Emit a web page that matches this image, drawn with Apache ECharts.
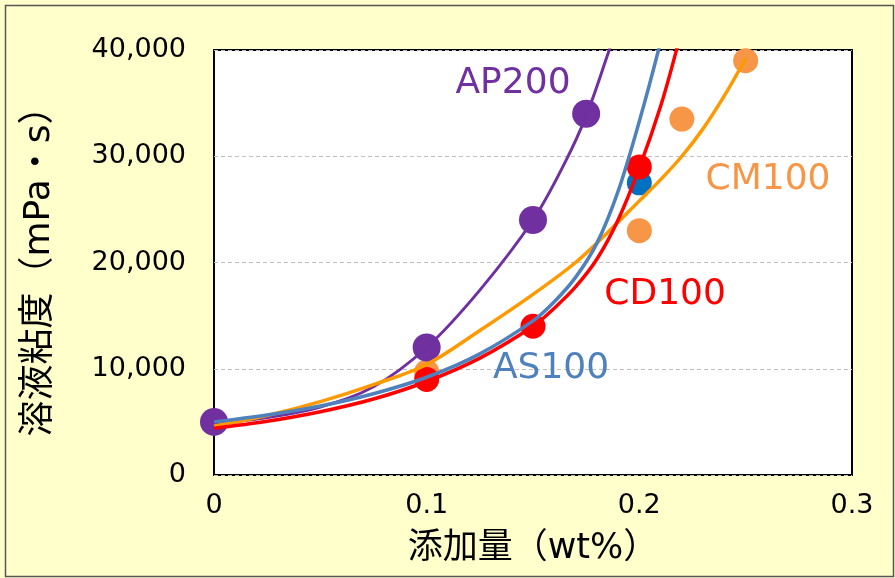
<!DOCTYPE html>
<html>
<head>
<meta charset="utf-8">
<script src="https://cdn.jsdelivr.net/npm/echarts@6/dist/echarts.min.js"></script>
<style>
  html, body { margin: 0; padding: 0; background: #ffffff; }
  #chart { width: 895px; height: 578px; }
</style>
</head>
<body>
<div id="chart"></div>
<script>
// Axis tick labels
const xTickLabels = ['0', '0.1', '0.2', '0.3'];
const yTickLabels = ['0', '10,000', '20,000', '30,000', '40,000'];

// Measured viscosity (mPa·s) vs. additive amount (wt%)
const ap200Points = [[0, 5000], [0.1, 12000], [0.15, 24000], [0.175, 34000]];
const cm100Points = [[0.1, 9700], [0.2, 23000], [0.22, 33500], [0.25, 39000]];
const cd100Points = [[0.1, 9000], [0.15, 14000], [0.2, 29000]];
const as100Points = [[0.2, 27500]];

// Approximation curves for each additive
const ap200Curve = [[0, 4800], [0.025, 5400], [0.05, 6400], [0.075, 8300], [0.1, 12000], [0.125, 17400],
  [0.15, 24000], [0.165, 29400], [0.175, 33800], [0.185, 39500], [0.19, 42500]];
const cm100Curve = [[0, 4600], [0.025, 5600], [0.05, 6900], [0.075, 8500], [0.1, 10400], [0.125, 13600],
  [0.15, 17000], [0.17, 20000], [0.185, 22800], [0.2, 25800], [0.21, 27800], [0.22, 30000],
  [0.23, 32600], [0.24, 35700], [0.25, 39200]];
const cd100Curve = [[0, 4400], [0.025, 5050], [0.05, 5950], [0.075, 7150], [0.1, 8800], [0.125, 11000],
  [0.15, 14000], [0.16, 15700], [0.17, 17700], [0.18, 20300], [0.19, 24000], [0.2, 28900],
  [0.21, 34700], [0.2172, 39800], [0.222, 43600]];
const as100Curve = [[0, 5000], [0.025, 5650], [0.05, 6500], [0.075, 7650], [0.1, 9200], [0.125, 11400],
  [0.15, 14500], [0.16, 16300], [0.17, 18600], [0.18, 21800], [0.19, 26700], [0.2, 33300],
  [0.209, 40000], [0.213, 43500]];

// Series name tags placed in data space
const seriesTags = [
  { name: 'AP200', value: [0.1406, 36800], color: '#7030A0' },
  { name: 'CM100', value: [0.2605, 27765], color: '#F79646' },
  { name: 'CD100', value: [0.2121, 16941], color: '#FF0000' },
  { name: 'AS100', value: [0.1585, 9976], color: '#4F81BD' }
];

const latinFont = '"DejaVu Sans", "Noto Sans CJK JP", sans-serif';

const chart = echarts.init(document.getElementById('chart'), null, { renderer: 'canvas' });

function markerSeries(data, color, size) {
  return { type: 'scatter', data: data, symbol: 'circle', symbolSize: size,
    itemStyle: { color: color, opacity: 1 }, z: 2, silent: true };
}
function curveSeries(data, color, width) {
  return { type: 'line', data: data, smooth: 0.35, showSymbol: false, symbol: 'none',
    clip: true, lineStyle: { color: color, width: width }, z: 3, silent: true };
}

chart.setOption({
  animation: false,
  backgroundColor: '#FFFFCC',
  graphic: [{
    type: 'rect', left: 3, top: 3, z: 100, silent: true,
    shape: { width: 888, height: 571 },
    style: { fill: 'none', stroke: '#555555', lineWidth: 1.5 }
  }],
  grid: { left: 214, right: 43, top: 50, bottom: 103, show: true, backgroundColor: '#ffffff',
    borderColor: '#000000', borderWidth: 2 },
  xAxis: {
    type: 'value', min: 0, max: 0.3, interval: 0.1,
    name: '添加量（wt%）', nameLocation: 'middle', nameGap: 56,
    nameTextStyle: { fontSize: 35, color: '#000', fontFamily: latinFont },
    axisLine: { show: false }, axisTick: { show: false }, splitLine: { show: false },
    axisLabel: { margin: 17, fontSize: 27, color: '#000', fontFamily: latinFont,
      formatter: v => xTickLabels[Math.round(v * 10)] }
  },
  yAxis: {
    type: 'value', min: 0, max: 40000, interval: 10000,
    name: '溶液粘度（mPa・s）', nameLocation: 'middle', nameGap: 156,
    nameTextStyle: { fontSize: 36, color: '#000', fontFamily: latinFont },
    axisLine: { show: false }, axisTick: { show: false },
    splitLine: { show: true, lineStyle: { color: '#BFBFBF', type: [4, 3], width: 1 } },
    axisLabel: { margin: 28, fontSize: 27, color: '#000', fontFamily: latinFont,
      formatter: v => yTickLabels[Math.round(v / 10000)] }
  },
  series: [
    markerSeries(as100Points, '#0070C0', 25),
    markerSeries(cm100Points, '#F79646', 25),
    markerSeries(cd100Points, '#FF0000', 25),
    markerSeries(ap200Points, '#7030A0', 28),
    curveSeries(ap200Curve, '#7030A0', 3),
    curveSeries(cm100Curve, '#FF9900', 3.5),
    curveSeries(cd100Curve, '#FF0000', 3.5),
    curveSeries(as100Curve, '#4F81BD', 3.5),
    {
      type: 'scatter', symbolSize: 0, z: 5, silent: true,
      itemStyle: { opacity: 1 },
      data: seriesTags.map(t => ({ name: t.name, value: t.value,
        label: { color: t.color } })),
      label: { show: true, position: 'inside', formatter: p => p.name,
        fontSize: 36, fontFamily: latinFont }
    }
  ]
});
</script>
</body>
</html>
